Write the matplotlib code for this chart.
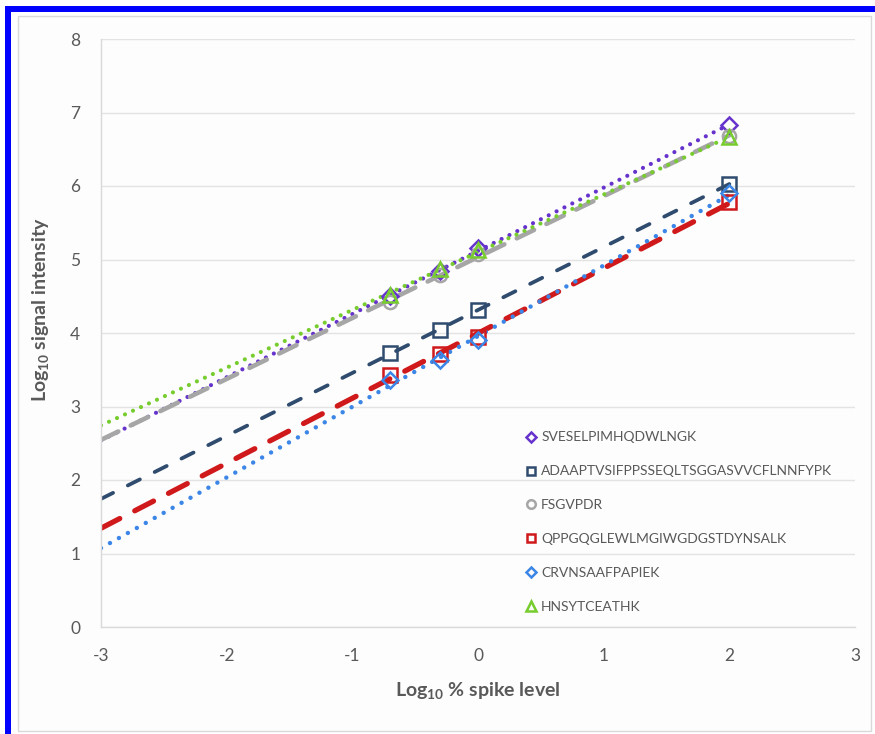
import numpy as np
import matplotlib
matplotlib.use("Agg")
import matplotlib.pyplot as plt
from matplotlib.patches import Rectangle

plt.rcParams['font.family'] = ['Lato', 'DejaVu Sans']
plt.rcParams['mathtext.fontset'] = 'custom'
plt.rcParams['mathtext.rm'] = 'Lato'
plt.rcParams['mathtext.bf'] = 'Lato:bold'
plt.rcParams['mathtext.default'] = 'regular'

# Spike levels (log10 % spike)
spike_pct = [0.2, 0.5, 1.0, 100.0]
log_spike = np.log10(spike_pct)

peptides = [
    "SVESELPIMHQDWLNGK",
    "ADAAPTVSIFPPSSEQLTSGGASVVCFLNNFYPK",
    "FSGVPDR",
    "QPPGQGLEWLMGIWGDGSTDYNSALK",
    "CRVNSAAFPAPIEK",
    "HNSYTCEATHK",
]

# Log10 signal intensity per peptide at each spike level
sig_sveselp = [4.50, 4.85, 5.15, 6.83]
sig_adaapt = [3.73, 4.04, 4.31, 6.03]
sig_fsgvpdr = [4.42, 4.79, 5.07, 6.68]
sig_qppgqg = [3.43, 3.71, 3.95, 5.78]
sig_crvnsa = [3.36, 3.63, 3.90, 5.90]
sig_hnsytc = [4.52, 4.87, 5.13, 6.66]

x_ticks = [-3, -2, -1, 0, 1, 2, 3]
y_ticks = [0, 1, 2, 3, 4, 5, 6, 7, 8]

series = [
    (sig_sveselp, dict(color='#6633CC', marker='D', ms=8.5),
     dict(lw=3.0, dashes=(0.01, 2.1))),
    (sig_adaapt, dict(color='#2F4B6E', marker='s', ms=9.5),
     dict(lw=2.7, dashes=(3.6, 4.4))),
    (sig_fsgvpdr, dict(color='#A6A6A6', marker='o', ms=9.5),
     dict(lw=3.3, dashes=(4.2, 3.0))),
    (sig_qppgqg, dict(color='#D0191B', marker='s', ms=9.5),
     dict(lw=3.8, dashes=(4.0, 3.2))),
    (sig_crvnsa, dict(color='#3B86E6', marker='D', ms=8.5),
     dict(lw=3.2, dashes=(0.01, 2.3))),
    (sig_hnsytc, dict(color='#77CC2E', marker='^', ms=10),
     dict(lw=3.0, dashes=(0.01, 2.1))),
]

fig = plt.figure(figsize=(8.75, 7.34), dpi=100)
fig.patch.set_facecolor('white')

# Frame around the figure
fig.patches.append(Rectangle((18 / 875, 1 - 731 / 734), (871 - 18) / 875, (731 - 16) / 734,
                             transform=fig.transFigure, facecolor='#FDFDFD',
                             edgecolor='#D9D9D9', lw=1, zorder=-3))
fig.patches.append(Rectangle((5 / 875, 0), 6 / 875, 1 - 6 / 734,
                             transform=fig.transFigure, facecolor='#0000FF',
                             edgecolor='none', zorder=-2))
fig.patches.append(Rectangle((5 / 875, 1 - 12 / 734), 870 / 875, 6 / 734,
                             transform=fig.transFigure, facecolor='#0000FF',
                             edgecolor='none', zorder=-2))

ax = fig.add_axes([101 / 875, 1 - 627 / 734, (855 - 101) / 875, (627 - 39) / 734])
ax.set_facecolor('none')

xfit = np.array([-3.0, 2.0])
for (vals, mk, ln), name in zip(series, peptides):
    slope, intercept = np.polyfit(log_spike, vals, 1)
    ax.plot(xfit, slope * xfit + intercept, color=mk['color'], lw=ln['lw'],
            dashes=ln['dashes'], dash_capstyle='round', zorder=2)
    ax.plot(log_spike, vals, linestyle='none', marker=mk['marker'], ms=mk['ms'],
            mfc='none', mec=mk['color'], mew=1.8, label=name, zorder=3)

ax.set_xlim(-3, 3)
ax.set_ylim(0, 8)
ax.set_xticks(x_ticks)
ax.set_yticks(y_ticks)
ax.set_xticklabels([str(v) for v in x_ticks])
ax.set_yticklabels([str(v) for v in y_ticks])
ax.tick_params(axis='both', length=0, labelsize=12.5, labelcolor='#595959')
ax.tick_params(axis='y', pad=15)
ax.tick_params(axis='x', pad=15)
ax.grid(axis='y', color='#E3E3E3', lw=1)
ax.set_axisbelow(True)
for s in ['top', 'right']:
    ax.spines[s].set_visible(False)
for s in ['left', 'bottom']:
    ax.spines[s].set_color('#D9D9D9')
    ax.spines[s].set_linewidth(1)

ax.set_xlabel('Log$_{10}$ % spike level', fontsize=14, fontweight='bold', color='#595959')
ax.set_ylabel('Log$_{10}$ signal intensity', fontsize=14, fontweight='bold', color='#595959')
ax.xaxis.set_label_coords(0.5, -0.09)
ax.yaxis.set_label_coords(-0.066, 0.54)

leg = ax.legend(loc='upper left', bbox_to_anchor=(0.556, 0.342), frameon=False,
                fontsize=10, labelcolor='#595959', handlelength=0.8,
                handletextpad=0.3, labelspacing=1.58, markerscale=0.65,
                borderaxespad=0)

fig.savefig('out.png', dpi=100)
